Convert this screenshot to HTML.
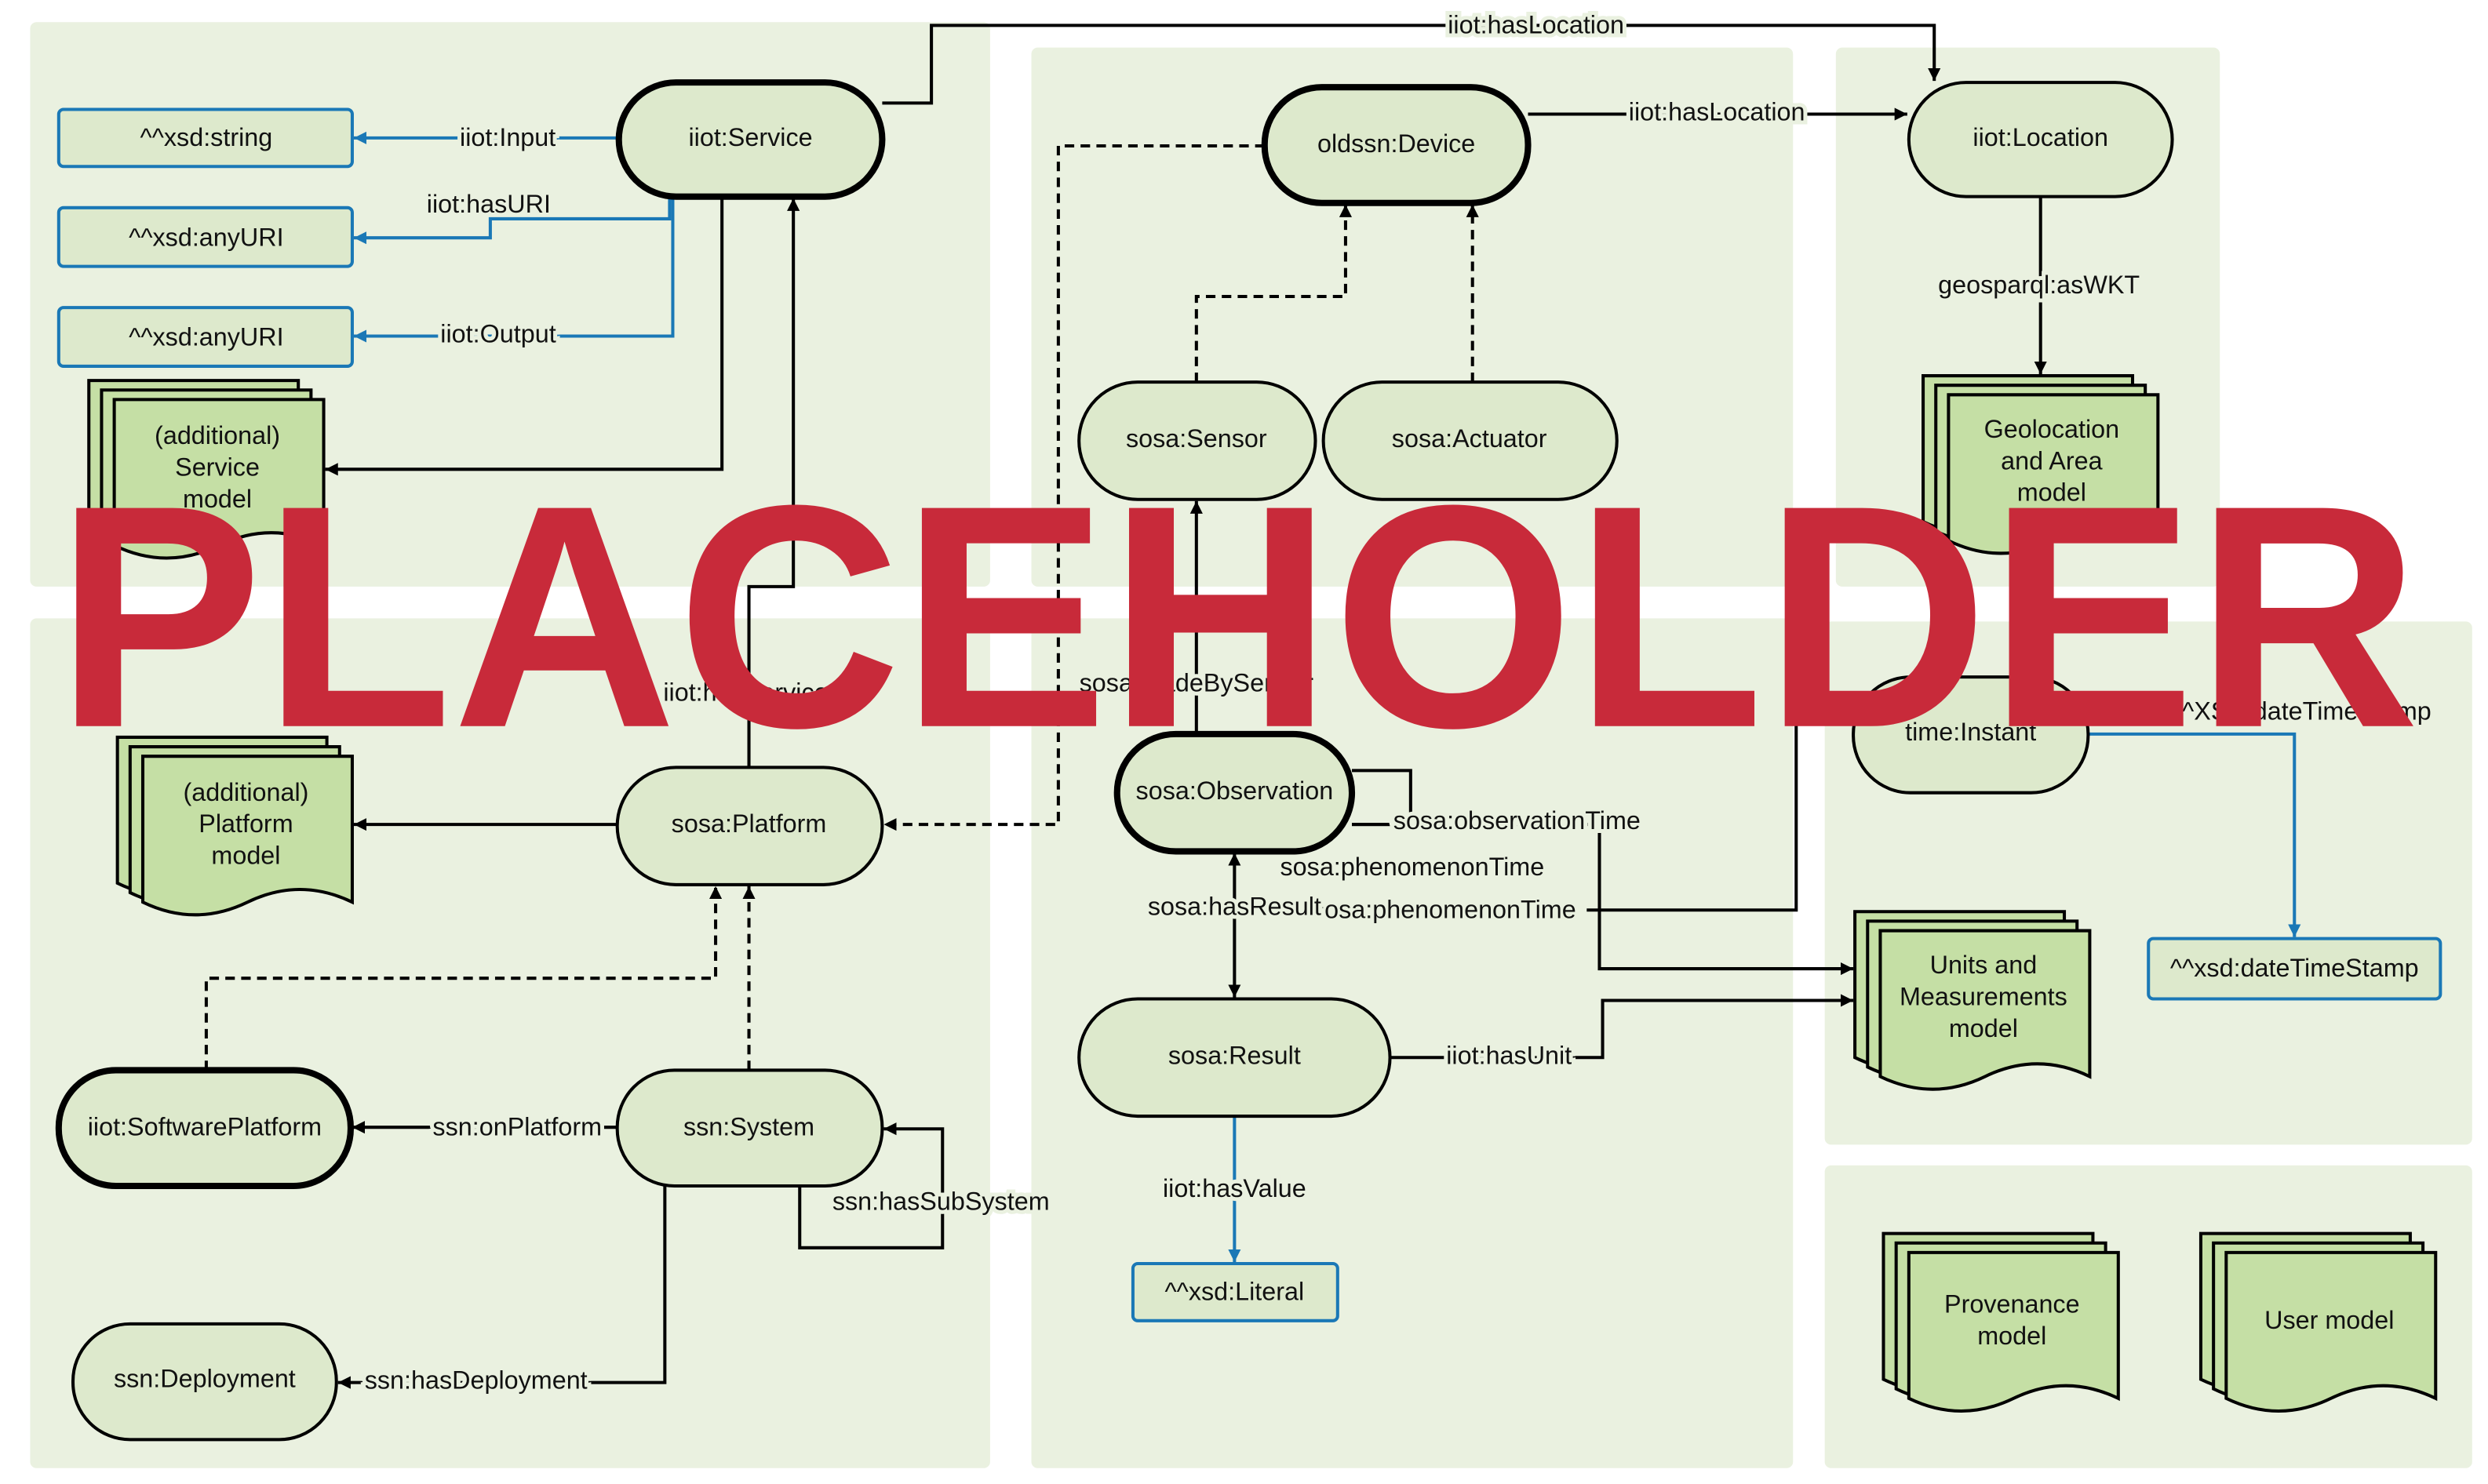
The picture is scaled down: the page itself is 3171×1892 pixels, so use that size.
<!DOCTYPE html>
<html><head><meta charset="utf-8"><style>
html,body{margin:0;padding:0;background:#fff}
svg{display:block}
text{font-family:"Liberation Sans",sans-serif;font-size:16px;fill:#111}
.l{paint-order:stroke;stroke:#eaf1e0;stroke-width:5px;text-anchor:middle}
.n{text-anchor:middle}
</style></head><body>
<svg width="3171" height="1892" viewBox="0 0 1568 936" preserveAspectRatio="none" xmlns="http://www.w3.org/2000/svg">
<defs>
<marker id="a" viewBox="0 0 10 10" refX="10" refY="5" markerWidth="8" markerHeight="8" orient="auto-start-reverse" markerUnits="userSpaceOnUse"><path d="M0,0 L10,5 L0,10z" fill="#000"/></marker>
<marker id="b" viewBox="0 0 10 10" refX="10" refY="5" markerWidth="8" markerHeight="8" orient="auto" markerUnits="userSpaceOnUse"><path d="M0,0 L10,5 L0,10z" fill="#1a78b6"/></marker>
</defs>
<rect width="1568" height="936" fill="#fff"/>
<g fill="#eaf1e0">
<rect x="19" y="14" width="605" height="356" rx="4"/>
<rect x="650" y="30" width="480" height="340" rx="4"/>
<rect x="1157" y="30" width="242" height="340" rx="4"/>
<rect x="19" y="390" width="605" height="536" rx="4"/>
<rect x="650" y="390" width="480" height="536" rx="4"/>
<rect x="1150" y="392" width="408" height="330" rx="4"/>
<rect x="1150" y="735" width="408" height="191" rx="4"/>
</g>

<!-- edges black -->
<g fill="none" stroke="#000" stroke-width="2">
<path d="M455,124 V296 H205" marker-end="url(#a)"/>
<path d="M556,65 H587 V16 H1219 V51" marker-end="url(#a)"/>
<path d="M963,72 H1202" marker-end="url(#a)"/>
<path d="M1286,124 V236" marker-end="url(#a)"/>
<path d="M472,484 V370 H500 V125" marker-end="url(#a)"/>
<path d="M389,520 H223" marker-end="url(#a)"/>
<path d="M754,463 V316" marker-end="url(#a)"/>
<path d="M852,486 H889 V520 H852"/>
<path d="M852,520 H1008 V611 H1168" marker-end="url(#a)"/>
<path d="M1000,574 H1132 V455 H1168"/>
<path d="M778,538 V629" marker-start="url(#a)" marker-end="url(#a)"/>
<path d="M876,667 H1010 V631 H1168" marker-end="url(#a)"/>
<path d="M389,711 H222" marker-end="url(#a)"/>
<path d="M504,748 V787 H594 V712 H557" marker-end="url(#a)"/>
<path d="M419,748 V872 H213" marker-end="url(#a)"/>
</g>
<g fill="none" stroke="#000" stroke-width="2" stroke-dasharray="6,4">
<path d="M754,241 V187 H848 V129" marker-end="url(#a)"/>
<path d="M928,241 V129" marker-end="url(#a)"/>
<path d="M797,92 H667 V520 H557" marker-end="url(#a)"/>
<path d="M472,675 V559" marker-end="url(#a)"/>
<path d="M130,675 V617 H451 V559" marker-end="url(#a)"/>
</g>
<g fill="none" stroke="#1a78b6" stroke-width="2">
<path d="M390,87 H223" marker-end="url(#b)"/>
<path d="M422,124 V138 H309 V150 H223" marker-end="url(#b)"/>
<path d="M424,124 V212 H223" marker-end="url(#b)"/>
<path d="M778,704 V796" marker-end="url(#b)"/>
<path d="M1316,463 H1446 V591" marker-end="url(#b)"/>
</g>

<!-- pill nodes -->
<g fill="#dde9cc" stroke="#000" stroke-width="2">
<rect x="390" y="52" width="166" height="72" rx="36" stroke-width="4"/>
<rect x="797" y="55" width="166" height="73" rx="36" stroke-width="4"/>
<rect x="1203" y="52" width="166" height="72" rx="36"/>
<rect x="680" y="241" width="149" height="74" rx="37"/>
<rect x="834" y="241" width="185" height="74" rx="37"/>
<rect x="389" y="484" width="167" height="74" rx="37"/>
<rect x="704" y="463" width="148" height="74" rx="37" stroke-width="4"/>
<rect x="1168" y="427" width="148" height="73" rx="36"/>
<rect x="680" y="630" width="196" height="74" rx="37"/>
<rect x="37" y="675" width="184" height="73" rx="36" stroke-width="4"/>
<rect x="389" y="675" width="167" height="73" rx="36"/>
<rect x="46" y="835" width="166" height="73" rx="36"/>
</g>
<g fill="#dde9cc" stroke="#1a78b6" stroke-width="2">
<rect x="37" y="69" width="185" height="36" rx="3"/>
<rect x="37" y="131" width="185" height="37" rx="3"/>
<rect x="37" y="194" width="185" height="37" rx="3"/>
<rect x="1354" y="592" width="184" height="38" rx="3"/>
<rect x="714" y="797" width="129" height="36" rx="3"/>
</g>

<!-- document stacks -->
<g fill="#c5dfa5" stroke="#000" stroke-width="2">
<g transform="translate(56,240)"><path d="M0,0H132V92Q99,76 66,92T0,92Z"/><path d="M8,6H140V98Q107,82 74,98T8,98Z"/><path d="M16,12H148V104Q115,88 82,104T16,104Z"/></g>
<g transform="translate(74,465)"><path d="M0,0H132V92Q99,76 66,92T0,92Z"/><path d="M8,6H140V98Q107,82 74,98T8,98Z"/><path d="M16,12H148V104Q115,88 82,104T16,104Z"/></g>
<g transform="translate(1212,237)"><path d="M0,0H132V92Q99,76 66,92T0,92Z"/><path d="M8,6H140V98Q107,82 74,98T8,98Z"/><path d="M16,12H148V104Q115,88 82,104T16,104Z"/></g>
<g transform="translate(1169,575)"><path d="M0,0H132V92Q99,76 66,92T0,92Z"/><path d="M8,6H140V98Q107,82 74,98T8,98Z"/><path d="M16,12H148V104Q115,88 82,104T16,104Z"/></g>
<g transform="translate(1187,778)"><path d="M0,0H132V92Q99,76 66,92T0,92Z"/><path d="M8,6H140V98Q107,82 74,98T8,98Z"/><path d="M16,12H148V104Q115,88 82,104T16,104Z"/></g>
<g transform="translate(1387,778)"><path d="M0,0H132V92Q99,76 66,92T0,92Z"/><path d="M8,6H140V98Q107,82 74,98T8,98Z"/><path d="M16,12H148V104Q115,88 82,104T16,104Z"/></g>
</g>

<!-- node text -->
<g class="n">
<text class="n" x="473" y="92">iiot:Service</text>
<text class="n" x="880" y="96">oldssn:Device</text>
<text class="n" x="1286" y="92">iiot:Location</text>
<text class="n" x="754" y="282">sosa:Sensor</text>
<text class="n" x="926" y="282">sosa:Actuator</text>
<text class="n" x="472" y="525">sosa:Platform</text>
<text class="n" x="778" y="504">sosa:Observation</text>
<text class="n" x="1242" y="467">time:Instant</text>
<text class="n" x="778" y="671">sosa:Result</text>
<text class="n" x="129" y="716">iiot:SoftwarePlatform</text>
<text class="n" x="472" y="716">ssn:System</text>
<text class="n" x="129" y="875">ssn:Deployment</text>
<text class="n" x="130" y="92">^^xsd:string</text>
<text class="n" x="130" y="155">^^xsd:anyURI</text>
<text class="n" x="130" y="218">^^xsd:anyURI</text>
<text class="n" x="1446" y="616">^^xsd:dateTimeStamp</text>
<text class="n" x="778" y="820">^^xsd:Literal</text>
<text class="n" x="137" y="280">(additional)</text><text class="n" x="137" y="300">Service</text><text class="n" x="137" y="320">model</text>
<text class="n" x="155" y="505">(additional)</text><text class="n" x="155" y="525">Platform</text><text class="n" x="155" y="545">model</text>
<text class="n" x="1293" y="276">Geolocation</text><text class="n" x="1293" y="296">and Area</text><text class="n" x="1293" y="316">model</text>
<text class="n" x="1250" y="614">Units and</text><text class="n" x="1250" y="634">Measurements</text><text class="n" x="1250" y="654">model</text>
<text class="n" x="1268" y="828">Provenance</text><text class="n" x="1268" y="848">model</text>
<text class="n" x="1468" y="838">User model</text>
</g>

<!-- edge labels -->
<g>
<text class="l" x="320" y="92">iiot:Input</text>
<text class="l" x="308" y="134">iiot:hasURI</text>
<text class="l" x="314" y="216">iiot:Output</text>
<text class="l" x="968" y="21">iiot:hasLocation</text>
<text class="l" x="1082" y="76">iiot:hasLocation</text>
<text class="l" x="1285" y="185">geosparql:asWKT</text>
<text class="l" x="470" y="442">iiot:hasService</text>
<text class="l" x="754" y="436">sosa:madeBySensor</text>
<text class="l" x="956" y="523">sosa:observationTime</text>
<text class="l" x="890" y="552">sosa:phenomenonTime</text>
<text class="l" x="910" y="579">sosa:phenomenonTime</text>
<text class="l" x="778" y="577">sosa:hasResult</text>
<text class="l" x="951" y="671">iiot:hasUnit</text>
<text class="l" x="778" y="755">iiot:hasValue</text>
<text class="l" x="1450" y="454">^^XSD:dateTimeStamp</text>
<text class="l" x="326" y="716">ssn:onPlatform</text>
<text class="l" x="593" y="763">ssn:hasSubSystem</text>
<text class="l" x="300" y="876">ssn:hasDeployment</text>
</g>

<text x="35" y="458" textLength="1490" lengthAdjust="spacingAndGlyphs" style="font-family:'Liberation Sans',sans-serif;font-weight:bold;font-size:200px;fill:#c82a3a">PLACEHOLDER</text>
</svg>
</body></html>
